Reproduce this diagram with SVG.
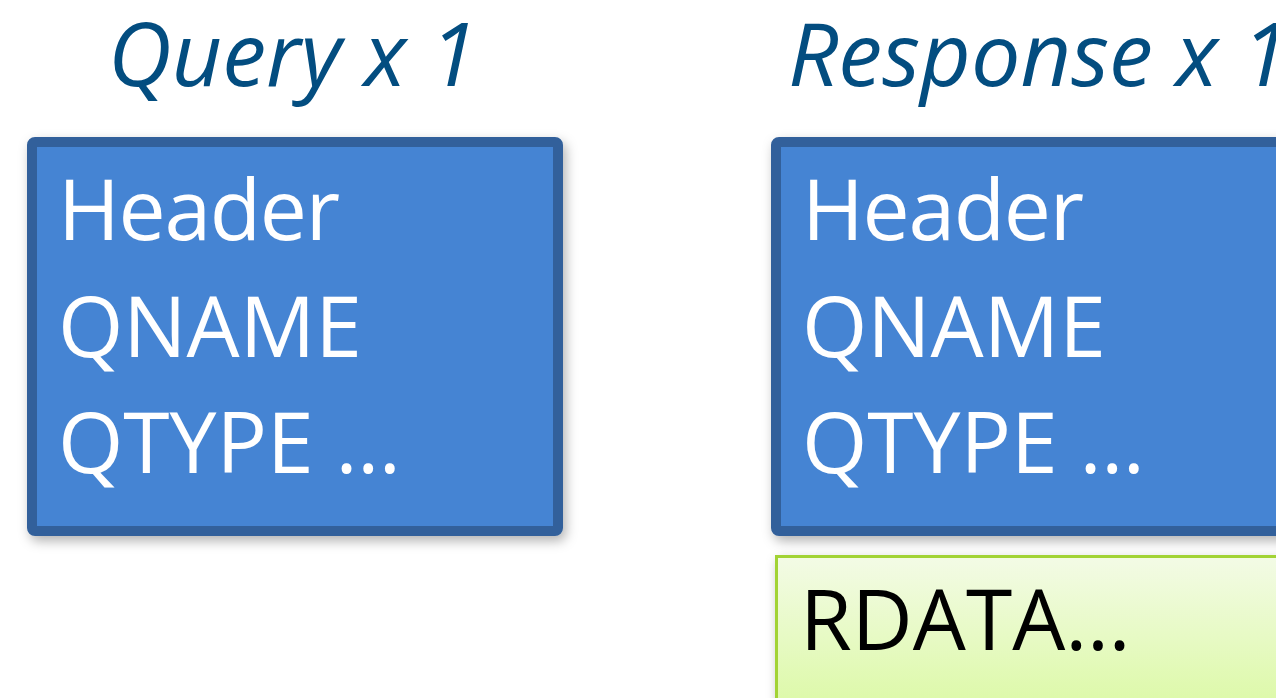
<svg xmlns="http://www.w3.org/2000/svg" width="1276" height="698" viewBox="0 0 1276 698">
  <defs>
    <filter id="shadow" x="-10%" y="-10%" width="125%" height="125%">
      <feDropShadow dx="3" dy="5" stdDeviation="6" flood-color="#000" flood-opacity="0.3"/>
    </filter>
    <linearGradient id="greenFill" x1="0" y1="0" x2="0" y2="1">
      <stop offset="0" stop-color="#f3fbe6"/>
      <stop offset="1" stop-color="#dbf9a3"/>
    </linearGradient>
  </defs>
  <style>
    .title { font-family: "Open Sans", "Noto Sans", sans-serif; font-style: italic; font-size: 88px; fill: #034d80; }
    .msg rect { fill: #4584d3; stroke: #33619b; stroke-width: 10; filter: url(#shadow); }
    .msg text { font-family: "Open Sans", "Noto Sans", sans-serif; font-size: 84px; fill: #ffffff; }
    .rdata rect { fill: url(#greenFill); stroke: #a2d335; stroke-width: 3; filter: url(#shadow); }
    .rdata text { font-family: "Open Sans", "Noto Sans", sans-serif; font-size: 84px; fill: #000000; }
  </style>
  <rect width="1276" height="698" fill="#ffffff"/>

  <g id="query-title"><text class="title" x="108" y="86">Query x 1</text></g>
  <g id="response-title"><text class="title" x="788" y="86">Response x 1</text></g>

  <g id="query" class="msg">
    <rect x="32" y="142" width="526" height="389" rx="3"/>
    <text x="58" y="240" textLength="282">Header</text>
    <text x="58" y="357">QNAME</text>
    <text x="58" y="473">QTYPE …</text>
  </g>

  <g id="response" class="msg">
    <rect x="776" y="142" width="520" height="389" rx="3"/>
    <text x="802" y="240" textLength="282">Header</text>
    <text x="802" y="357">QNAME</text>
    <text x="802" y="473">QTYPE …</text>
  </g>

  <g id="rdata" class="rdata">
    <rect x="776.5" y="556.5" width="520" height="160"/>
    <text x="800" y="650">RDATA…</text>
  </g>

  <g id="connectors"/>
</svg>
